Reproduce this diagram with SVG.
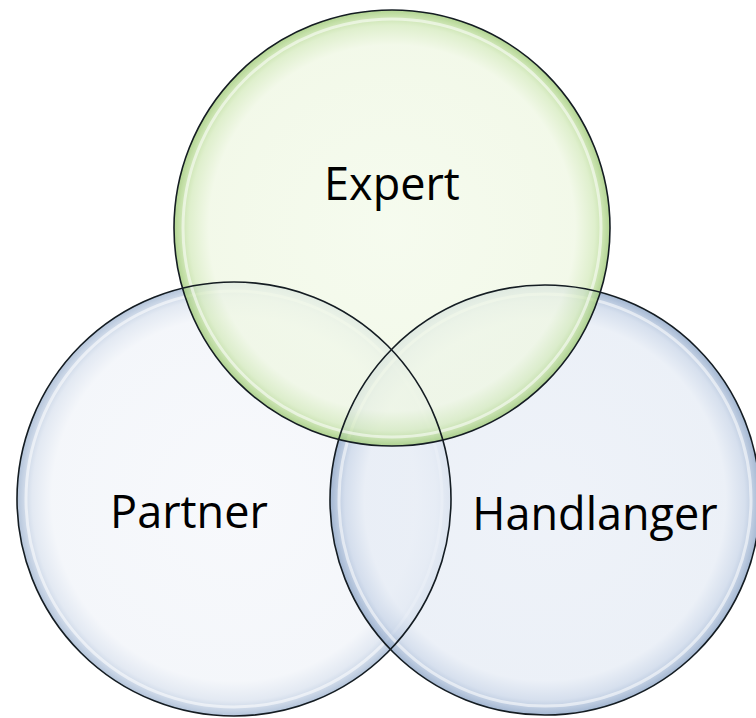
<svg xmlns="http://www.w3.org/2000/svg" width="756" height="718" viewBox="0 0 756 718">
  <defs>
    <radialGradient id="gGreen" cx="50%" cy="50%" r="50%">
      <stop offset="0%" stop-color="#f3faea"/>
      <stop offset="84%" stop-color="#eff7e3"/>
      <stop offset="93%" stop-color="#d6ebbf"/>
      <stop offset="97%" stop-color="#badb98"/>
      <stop offset="100%" stop-color="#9cc873"/>
    </radialGradient>
    <radialGradient id="gBlueLight" cx="50%" cy="50%" r="50%">
      <stop offset="0%" stop-color="#f5f7fb"/>
      <stop offset="84%" stop-color="#f1f4f9"/>
      <stop offset="93%" stop-color="#dbe3ef"/>
      <stop offset="97%" stop-color="#bccbe0"/>
      <stop offset="100%" stop-color="#9fb4d0"/>
    </radialGradient>
    <radialGradient id="gBlue" cx="50%" cy="50%" r="50%">
      <stop offset="0%" stop-color="#eaeff7"/>
      <stop offset="84%" stop-color="#e6ecf5"/>
      <stop offset="93%" stop-color="#cbd7e9"/>
      <stop offset="97%" stop-color="#a9bcd7"/>
      <stop offset="100%" stop-color="#8aa3c5"/>
    </radialGradient>
  </defs>
  <style>
    .circ { stroke: none; fill-opacity: 0.78; }
    .edge { fill: none; stroke: #141c22; stroke-width: 1.6; }
    .gloss { fill: none; stroke: #ffffff; stroke-width: 3; stroke-opacity: 0.55; }
    .lbl { font-family: "Open Sans", "Noto Sans", "Liberation Sans", sans-serif; font-size: 45px; fill: #000000; text-anchor: middle; }
  </style>
  <rect x="0" y="0" width="756" height="718" fill="#ffffff"/>
  <g id="partner">
    <circle class="circ" cx="234" cy="499" r="217" fill="url(#gBlueLight)"/>
    <circle class="gloss" cx="234" cy="499" r="208"/>
    <text class="lbl" x="189" y="528">Partner</text>
  </g>
  <g id="handlanger">
    <circle class="circ" cx="545" cy="500" r="215" fill="url(#gBlue)"/>
    <circle class="gloss" cx="545" cy="500" r="206"/>
    <text class="lbl" x="595" y="530">Handlanger</text>
  </g>
  <g id="expert">
    <circle class="circ" cx="392" cy="228" r="218" fill="url(#gGreen)"/>
    <circle class="gloss" cx="392" cy="228" r="209"/>
    <text class="lbl" x="392" y="200">Expert</text>
  </g>
  <g id="outlines">
    <circle class="edge" cx="234" cy="499" r="217"/>
    <circle class="edge" cx="545" cy="500" r="215"/>
    <circle class="edge" cx="392" cy="228" r="218"/>
  </g>
  <g id="connectors"></g>
</svg>
